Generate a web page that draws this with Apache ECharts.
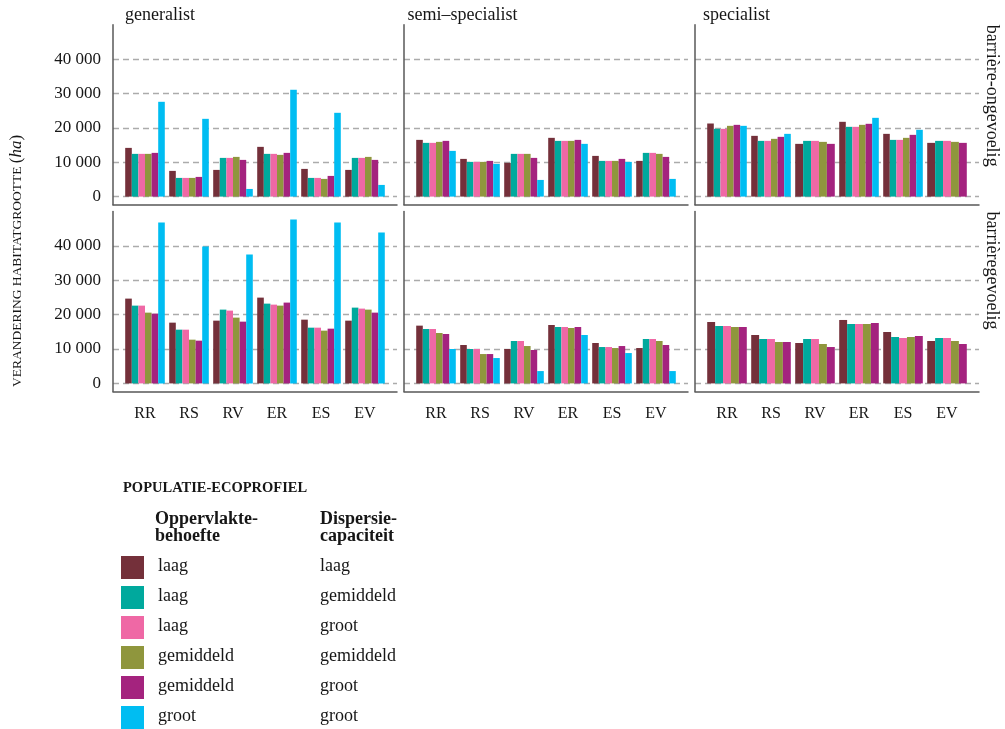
<!DOCTYPE html>
<html>
<head>
<meta charset="utf-8">
<script src="https://cdn.jsdelivr.net/npm/echarts@6/dist/echarts.min.js"></script>
<style>
  html, body { margin: 0; padding: 0; background: #fff; }
  #chart { width: 1005px; height: 729px; }
</style>
</head>
<body>
<div id="chart"></div>
<script>
// Landscape scenarios on the x axis
const categories = ['RR', 'RS', 'RV', 'ER', 'ES', 'EV'];
const facetCols = ['generalist', 'semi\u2013specialist', 'specialist'];
const facetRows = ['barrière-ongevoelig', 'barrièregevoelig'];

// Population eco-profiles (legend order)
const areaNeed = ['laag', 'laag', 'laag', 'gemiddeld', 'gemiddeld', 'groot'];
const dispersal = ['laag', 'gemiddeld', 'groot', 'gemiddeld', 'groot', 'groot'];
const profileColors = ['#74303a', '#00a99d', '#ef68a5', '#8f963d', '#a4237e', '#00bdf2'];

// Change in habitat size (ha): one row per eco-profile, one column per scenario
const generalistOngevoelig = [
  [14170, 7480, 7770, 14470, 8060, 7770],
  [12430, 5440, 11260, 12430, 5440, 11260],
  [12430, 5440, 11260, 12430, 5440, 11260],
  [12430, 5440, 11550, 12140, 5150, 11550],
  [12720, 5730, 10680, 12720, 6020, 10680],
  [27570, 22620, 2230, 31070, 24370, 3400]
];
const semiOngevoelig = [
  [16500, 10970, 9810, 17090, 11840, 10390],
  [15630, 10100, 12430, 16210, 10390, 12720],
  [15630, 10100, 12430, 16210, 10390, 12720],
  [15920, 10100, 12430, 16210, 10390, 12430],
  [16210, 10390, 11260, 16500, 10970, 11550],
  [13300, 9510, 4850, 15340, 10100, 5150]
];
const specialistOngevoelig = [
  [21260, 17670, 15340, 21750, 18250, 15630],
  [19710, 16210, 16210, 20290, 16500, 16210],
  [19710, 16210, 16210, 20290, 16500, 16210],
  [20580, 16800, 15920, 20870, 17090, 15920],
  [20870, 17380, 15340, 21170, 17960, 15630],
  [20580, 18250, null, 22910, 19420, null]
];
const generalistGevoelig = [
  [24660, 17670, 18250, 24950, 18540, 18250],
  [22620, 15630, 21460, 23200, 16210, 22040],
  [22620, 15630, 21170, 22910, 16210, 21750],
  [20580, 12720, 19130, 22620, 15340, 21460],
  [20290, 12430, 17960, 23500, 15920, 20580],
  [46800, 39810, 37480, 47670, 46800, 43880]
];
const semiGevoelig = [
  [16800, 11170, 10000, 16990, 11750, 10290],
  [15830, 10000, 12330, 16410, 10580, 12910],
  [15830, 10000, 12330, 16410, 10580, 12910],
  [14660, 8540, 10870, 16120, 10290, 12330],
  [14370, 8540, 9710, 16410, 10870, 11170],
  [10000, 7380, 3590, 14080, 8830, 3590]
];
const specialistGevoelig = [
  [17860, 14080, 11750, 18450, 14950, 12330],
  [16700, 12910, 12910, 17280, 13500, 13200],
  [16700, 12910, 12910, 17280, 13200, 13200],
  [16410, 12040, 11460, 17280, 13500, 12330],
  [16410, 12040, 10580, 17570, 13790, 11460],
  [null, null, null, null, null, null]
];

const panels = [
  [generalistOngevoelig, semiOngevoelig, specialistOngevoelig],
  [generalistGevoelig, semiGevoelig, specialistGevoelig]
];

// ---- layout ----
const FONT = '"Liberation Serif", "DejaVu Serif", serif';
const TEXT = '#161616';
const panelLefts = [113, 404, 695];
const panelWidth = 284;
const barBand = 44;               // width of one scenario slot
const rowTops = [24.7, 211.5];
const panelHeight = 180.1;
const yMin = -2380, yMax = 49990;
const dodgeWidth = 0.9;

const fmt = v => String(v).replace(/\B(?=(\d{3})+(?!\d))/g, ' ');
function yTickShown(v) { return v >= 0 && v <= 40000 && v % 10000 === 0; }

const grids = [], xAxes = [], yAxes = [], series = [];
const axisLineStyle = { color: '#585858', width: 1.5 };

panels.forEach((row, r) => {
  row.forEach((values, c) => {
    const frameIdx = grids.length;
    // frame: axis lines + dashed grid lines
    grids.push({ left: panelLefts[c], top: rowTops[r], width: panelWidth, height: panelHeight });
    xAxes.push({
      type: 'value', gridIndex: frameIdx, min: 0, max: 1,
      axisLine: { show: true, onZero: false, lineStyle: axisLineStyle },
      axisTick: { show: false }, axisLabel: { show: false }, splitLine: { show: false }
    });
    yAxes.push({
      type: 'value', gridIndex: frameIdx, min: yMin, max: yMax,
      axisLine: { show: true, onZero: false, lineStyle: axisLineStyle },
      axisTick: { show: false },
      axisLabel: {
        show: c === 0, margin: 12, color: TEXT, fontFamily: FONT, fontSize: 17,
        formatter: v => (yTickShown(v) ? fmt(v) : '')
      },
      splitLine: {
        show: true, showMinLine: false, showMaxLine: false,
        lineStyle: { color: '#ababab', width: 1.3, type: [6, 4] }
      }
    });

    // bars: category axis centred in the panel
    const barIdx = grids.length;
    const barWidthTotal = barBand * categories.length;
    grids.push({
      left: panelLefts[c] + (panelWidth - barWidthTotal) / 2, top: rowTops[r],
      width: barWidthTotal, height: panelHeight
    });
    xAxes.push({
      type: 'category', gridIndex: barIdx, data: categories,
      axisLine: { show: false }, axisTick: { show: false }, splitLine: { show: false },
      axisLabel: { show: r === 1, margin: 14, color: TEXT, fontFamily: FONT, fontSize: 16 }
    });
    yAxes.push({
      type: 'value', gridIndex: barIdx, min: yMin, max: yMax, show: false,
      splitLine: { show: false }
    });

    // dodge bars within each scenario over the profiles that are present
    const data = [];
    categories.forEach((cat, ci) => {
      const present = [];
      values.forEach((vals, p) => { if (vals[ci] !== null && vals[ci] !== undefined) present.push(p); });
      present.forEach((p, slot) => data.push([ci, values[p][ci], slot, present.length, p]));
    });
    series.push({
      type: 'custom', xAxisIndex: barIdx, yAxisIndex: barIdx, z: 5,
      encode: { x: 0, y: 1 },
      data,
      renderItem: (params, api) => {
        const ci = api.value(0), v = api.value(1);
        const slot = api.value(2), n = api.value(3), p = api.value(4);
        const topPt = api.coord([ci, v]);
        const basePt = api.coord([ci, 0]);
        const band = api.size([1, 0])[0];
        const gw = band * dodgeWidth;
        const bw = gw / n;
        return {
          type: 'rect',
          shape: { x: topPt[0] - gw / 2 + slot * bw, y: topPt[1], width: bw, height: basePt[1] - topPt[1] },
          style: { fill: profileColors[p] }
        };
      }
    });
  });
});

// ---- texts: strips, axis title, legend ----
const graphics = [];
const stripX = [125, 407.5, 703];
facetCols.forEach((t, c) => graphics.push({
  type: 'text', x: stripX[c], y: 15,
  style: { text: t, font: '18px ' + FONT, fill: TEXT, textAlign: 'left', textVerticalAlign: 'middle' }
}));
facetRows.forEach((t, r) => graphics.push({
  type: 'text', x: 992, y: rowTops[r], rotation: -Math.PI / 2,
  style: { text: t, font: '18px ' + FONT, fill: TEXT, textAlign: 'left', textVerticalAlign: 'middle' }
}));
graphics.push({
  type: 'text', x: 17, y: 261, rotation: Math.PI / 2,
  style: {
    text: '{sc|VERANDERING HABITATGROOTTE }{p|(}{it|ha}{p|)}',
    textAlign: 'center', textVerticalAlign: 'middle', fill: TEXT,
    rich: {
      sc: { fontFamily: FONT, fontSize: 13.5, fill: TEXT },
      p: { fontFamily: FONT, fontSize: 17, fill: TEXT },
      it: { fontFamily: FONT, fontSize: 17, fontStyle: 'italic', fill: TEXT }
    }
  }
});

// legend
graphics.push({
  type: 'text', x: 123, y: 488,
  style: { text: 'POPULATIE-ECOPROFIEL', font: 'bold 14.5px ' + FONT, fill: TEXT, textVerticalAlign: 'middle' }
});
[['Oppervlakte-', 'behoefte', 155], ['Dispersie-', 'capaciteit', 320]].forEach(h => {
  graphics.push({ type: 'text', x: h[2], y: 519, style: { text: h[0], font: 'bold 18px ' + FONT, fill: TEXT, textVerticalAlign: 'middle' } });
  graphics.push({ type: 'text', x: h[2], y: 536, style: { text: h[1], font: 'bold 18px ' + FONT, fill: TEXT, textVerticalAlign: 'middle' } });
});
profileColors.forEach((col, i) => {
  const y0 = 556 + 30 * i;
  graphics.push({ type: 'rect', shape: { x: 121, y: y0, width: 23, height: 23 }, style: { fill: col } });
  graphics.push({ type: 'text', x: 158, y: y0 + 10.5, style: { text: areaNeed[i], font: '18px ' + FONT, fill: TEXT, textVerticalAlign: 'middle' } });
  graphics.push({ type: 'text', x: 320, y: y0 + 10.5, style: { text: dispersal[i], font: '18px ' + FONT, fill: TEXT, textVerticalAlign: 'middle' } });
});

const chart = echarts.init(document.getElementById('chart'), null, { renderer: 'canvas' });
chart.setOption({
  backgroundColor: '#ffffff',
  animation: false,
  grid: grids,
  xAxis: xAxes,
  yAxis: yAxes,
  series,
  graphic: graphics
});
</script>
</body>
</html>
